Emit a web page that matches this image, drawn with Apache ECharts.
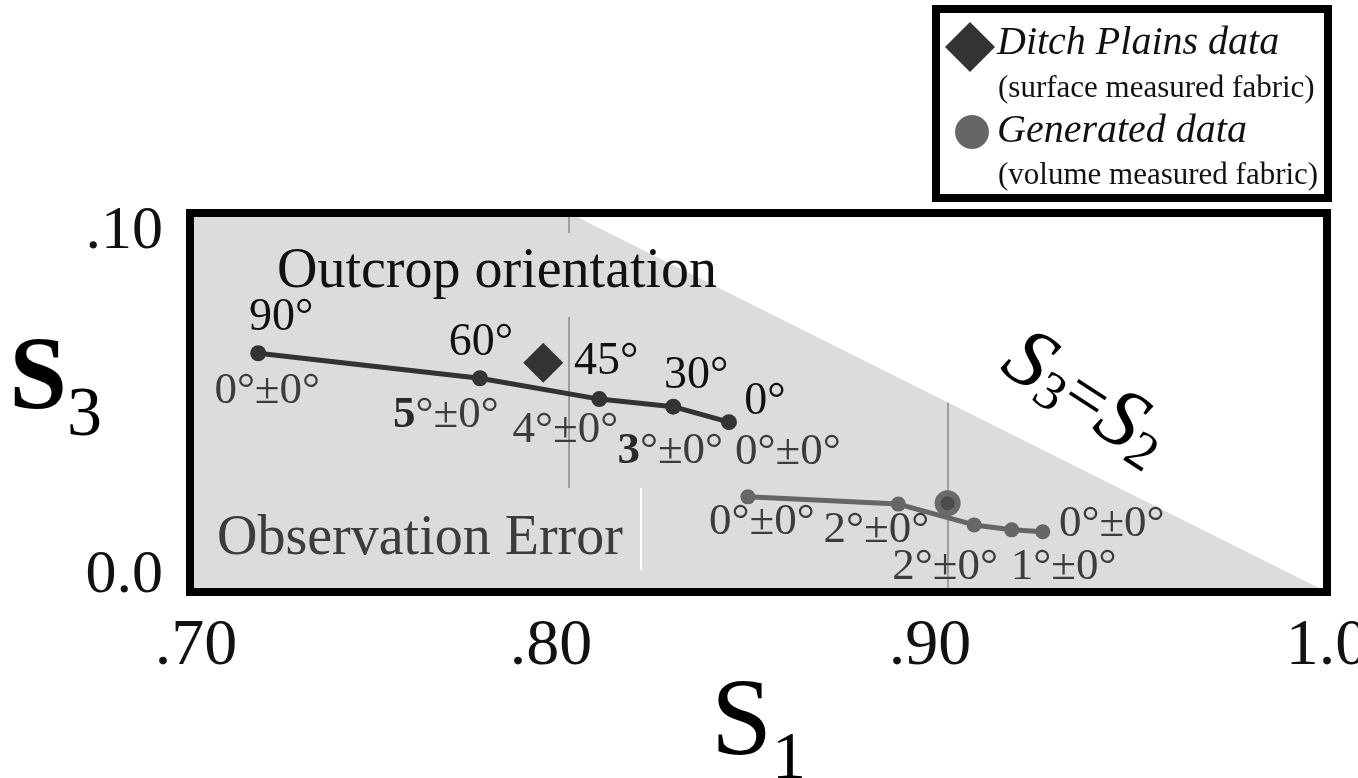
<!DOCTYPE html>
<html><head><meta charset="utf-8">
<script src="https://cdn.jsdelivr.net/npm/echarts@6/dist/echarts.min.js"></script>
<style>html,body{margin:0;padding:0;background:#fff}#c{width:1358px;height:778px}</style>
</head><body><div id="c"></div>
<script>
// ---------------- DATA ----------------
const xTickLabels = ['.70', '.80', '.90', '1.0'];
const yTickLabels = ['0.0', '.10'];

// Outcrop orientation (surface measured fabric model)
const outcropS1 = [0.7180, 0.7765, 0.8080, 0.8275, 0.8422];
const outcropS3 = [0.0630, 0.0564, 0.0509, 0.0489, 0.0448];
const outcropAngles = ['90°', '60°', '45°', '30°', '0°'];
const outcropErrors = ['0°±0°', '5°±0°', '4°±0°', '3°±0°', '0°±0°'];

// Ditch Plains data
const ditchS1 = [0.7932];
const ditchS3 = [0.0605];

// Generated data (volume measured fabric)
const generatedS1 = [0.8472, 0.8869, 0.9069, 0.9168, 0.9250];
const generatedS3 = [0.0251, 0.0232, 0.0177, 0.0164, 0.0159];
const generatedErrors = ['0°±0°', '2°±0°', '2°±0°', '1°±0°', '0°±0°'];
const generatedMeanS1 = [0.8999];
const generatedMeanS3 = [0.0234];

// S3 = S2 boundary
const boundaryS1 = [0.80, 1.00];
const boundaryS3 = [0.10, 0.00];

// ---------------- STYLE / LAYOUT ----------------
const F = "'Liberation Serif','Times New Roman',serif";
const angleOffsets = [[23, -35], [1, -35], [7, -37], [23, -31], [36, -20]];
const outErrOffsets = [[9, 38], [-34, 37], [-34, 31], [-3, 45], [59, 30]];
const outErrBold = [false, true, false, true, false];
const genErrOffsets = [[14, 25], [-22, 26], [-29, 42], [52, 37], [69, -8]];
const yTickStyles = ['lo', 'hi'];
const xTickStyles = ['a', 'b', 'b', 'c'];

function pts(xs, ys) { return xs.map((x, i) => [x, ys[i]]); }
function labelled(xs, ys, texts, offsets, fmt) {
  return xs.map((x, i) => ({
    value: [x, ys[i]],
    label: { offset: offsets[i], formatter: fmt ? fmt(texts[i], i) : texts[i] }
  }));
}
function errFmt(t, i) {
  return outErrBold[i] ? '{b|' + t.charAt(0) + '}{r|' + t.slice(1) + '}' : '{r|' + t + '}';
}

const chart = echarts.init(document.getElementById('c'));
const option = {
  animation: false,
  backgroundColor: '#fff',
  grid: {
    left: 190, right: 31, top: 213, bottom: 186, show: true, backgroundColor: '#dcdcdc', borderWidth: 0,
    containLabel: false, outerBoundsMode: 'none'
  },
  xAxis: {
    type: 'value', min: 0.7, max: 1.0, interval: 0.1,
    axisLine: { show: false }, axisTick: { show: false },
    splitLine: { show: true, lineStyle: { color: '#8a8a8a', width: 1.5 } },
    axisLabel: {
      formatter: (v, i) => '{' + xTickStyles[i] + '|' + xTickLabels[i] + '}',
      fontSize: 66, color: '#111', margin: 22, fontFamily: F,
      rich: {
        a: { fontSize: 66, fontFamily: F, color: '#111', padding: [0, 0, 0, 12] },
        b: { fontSize: 66, fontFamily: F, color: '#111', padding: [0, 36, 0, 0] },
        c: { fontSize: 66, fontFamily: F, color: '#111' }
      }
    },
    name: '{s|S}{sub|1}', nameLocation: 'middle', nameGap: 78, nameMoveOverlap: false,
    nameTextStyle: {
      fontFamily: F, color: '#000',
      rich: {
        s: { fontSize: 110, fontFamily: F, color: '#000', padding: [0, 0, 14, 0] },
        sub: { fontSize: 68, fontFamily: F, color: '#000', verticalAlign: 'bottom' }
      }
    }
  },
  yAxis: {
    type: 'value', min: 0, max: 0.1, interval: 0.1,
    axisLine: { show: false }, axisTick: { show: false }, splitLine: { show: false },
    axisLabel: {
      formatter: (v, i) => '{' + yTickStyles[i] + '|' + yTickLabels[i] + '}',
      margin: 27, color: '#111', fontFamily: F,
      rich: {
        hi: { fontSize: 62, fontFamily: F, color: '#111', padding: [38, 0, 0, 0] },
        lo: { fontSize: 62, fontFamily: F, color: '#111', padding: [0, 0, 32, 0] }
      }
    },
    name: '{s|S}{sub|3}', nameLocation: 'middle', nameGap: 88, nameRotate: 0, nameMoveOverlap: false,
    nameTextStyle: {
      fontFamily: F, color: '#000', padding: [0, 0, 24, 0],
      rich: {
        s: { fontSize: 104, fontWeight: 'bold', fontFamily: F, color: '#000', padding: [0, 0, 18, 0] },
        sub: { fontSize: 70, fontFamily: F, color: '#000', verticalAlign: 'bottom' }
      }
    }
  },
  series: [
    {
      type: 'line', name: 'S3=S2', data: pts(boundaryS1, boundaryS3), symbol: 'none', silent: true,
      lineStyle: { width: 0 }, areaStyle: { color: '#fff', opacity: 1, origin: 'end' }, z: 2
    },
    {
      type: 'line', name: 'Outcrop orientation',
      data: labelled(outcropS1, outcropS3, outcropAngles, angleOffsets),
      symbol: 'circle', symbolSize: 16,
      lineStyle: { color: '#333', width: 5 }, itemStyle: { color: '#333' },
      label: { show: true, position: 'inside', fontSize: 46, fontFamily: F, color: '#111', align: 'center', verticalAlign: 'middle' },
      z: 4
    },
    {
      type: 'scatter', name: 'Outcrop error',
      data: labelled(outcropS1, outcropS3, outcropErrors, outErrOffsets, errFmt),
      symbolSize: 1, itemStyle: { color: 'rgba(0,0,0,0)', opacity: 1 }, silent: true,
      label: {
        show: true, position: 'inside', align: 'center', verticalAlign: 'middle', fontFamily: F,
        rich: {
          r: { fontSize: 45, fontFamily: F, color: '#3c3c3c' },
          b: { fontSize: 45, fontFamily: F, color: '#2a2a2a', fontWeight: 'bold' }
        }
      },
      z: 4
    },
    {
      type: 'scatter', name: 'Ditch Plains data', data: pts(ditchS1, ditchS3),
      symbol: 'diamond', symbolSize: [40, 40], itemStyle: { color: '#333', opacity: 1 }, z: 5
    },
    {
      type: 'line', name: 'Generated data',
      data: labelled(generatedS1, generatedS3, generatedErrors, genErrOffsets),
      symbol: 'circle', symbolSize: 15,
      lineStyle: { color: '#666', width: 5 }, itemStyle: { color: '#666' },
      label: { show: true, position: 'inside', fontSize: 45, fontFamily: F, color: '#3c3c3c', align: 'center', verticalAlign: 'middle' },
      z: 4
    },
    {
      type: 'scatter', name: 'Generated mean', data: pts(generatedMeanS1, generatedMeanS3),
      symbol: 'circle', symbolSize: 20,
      itemStyle: { color: '#4c4c4c', borderColor: '#6a6a6a', borderWidth: 6, opacity: 1 }, z: 5
    }
  ],
  graphic: [
    {
      type: 'rect', z: 3, silent: true,
      shape: { x: 560, y: 233, width: 16, height: 84 },
      style: { fill: '#dcdcdc' }
    },
    {
      type: 'text', x: 277, y: 272, z: 3,
      style: {
        text: 'Outcrop orientation', fontSize: 56, fontFamily: F, fill: '#111',
        verticalAlign: 'middle', align: 'left'
      }
    },
    {
      type: 'text', x: 206, y: 488, z: 3,
      style: {
        text: 'Observation Error', fontSize: 56, fontFamily: F, fill: '#3c3c3c',
        backgroundColor: '#dcdcdc', padding: [23, 10, 23, 11], verticalAlign: 'top', align: 'left'
      }
    },
    {
      type: 'line', z: 3, shape: { x1: 641, y1: 488, x2: 641, y2: 570 },
      style: { stroke: '#ffffff', lineWidth: 2 }
    },
    {
      type: 'text', x: 1085, y: 400, rotation: -33 * Math.PI / 180, z: 6,
      style: {
        text: '{s|S}{sub|3}{eq|=}{s|S}{sub|2}', align: 'center', verticalAlign: 'middle', fontFamily: F,
        rich: {
          s: { fontSize: 84, fontStyle: 'italic', fontFamily: F, fill: '#000' },
          sub: { fontSize: 54, fontFamily: F, fill: '#000', verticalAlign: 'bottom' },
          eq: { fontSize: 72, fontFamily: F, fill: '#000' }
        }
      }
    },
    {
      type: 'rect', z: 20, silent: true,
      shape: { x: 190, y: 213, width: 1137, height: 379 },
      style: { fill: 'none', stroke: '#000', lineWidth: 8 }
    },
    {
      type: 'rect', z: 20, silent: true,
      shape: { x: 936, y: 9, width: 392, height: 189 },
      style: { fill: '#fff', stroke: '#000', lineWidth: 8 }
    },
    {
      type: 'polygon', z: 21, silent: true,
      shape: { points: [[970, 22], [995, 47], [970, 72], [945, 47]] },
      style: { fill: '#333' }
    },
    {
      type: 'text', x: 997, y: 43, z: 21,
      style: { text: 'Ditch Plains data', fontSize: 40, fontStyle: 'italic', fontFamily: F, fill: '#111', verticalAlign: 'middle' }
    },
    {
      type: 'text', x: 998, y: 89, z: 21,
      style: { text: '(surface measured fabric)', fontSize: 31, fontFamily: F, fill: '#111', verticalAlign: 'middle' }
    },
    {
      type: 'circle', z: 21, silent: true,
      shape: { cx: 972, cy: 132, r: 17 },
      style: { fill: '#666' }
    },
    {
      type: 'text', x: 997, y: 131, z: 21,
      style: { text: 'Generated data', fontSize: 40, fontStyle: 'italic', fontFamily: F, fill: '#111', verticalAlign: 'middle' }
    },
    {
      type: 'text', x: 998, y: 176, z: 21,
      style: { text: '(volume measured fabric)', fontSize: 31, fontFamily: F, fill: '#111', verticalAlign: 'middle' }
    }
  ]
};
chart.setOption(option);
</script>
</body></html>
